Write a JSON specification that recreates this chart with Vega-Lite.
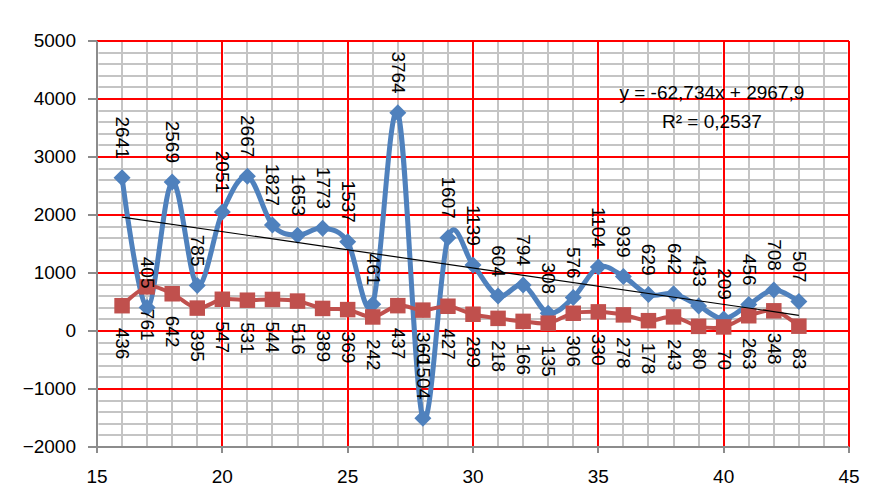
{
  "$schema": "https://vega.github.io/schema/vega-lite/v6.json",
  "width": 752,
  "height": 406,
  "autosize": {"type": "none"},
  "padding": {"left": 97, "top": 41, "right": 37, "bottom": 45},
  "background": "white",
  "config": {
    "view": {"stroke": null},
    "font": "Liberation Sans",
    "axis": {"labelFont": "Liberation Sans", "labelFontSize": 19, "labelColor": "#000000", "gridOpacity": 1, "domainOpacity": 1, "tickOpacity": 1, "translate": 0}
  },
  "data": {
    "values": [
      {"x": 16, "a": 2641, "b": 436},
      {"x": 17, "a": 405, "b": 761},
      {"x": 18, "a": 2569, "b": 642},
      {"x": 19, "a": 785, "b": 395},
      {"x": 20, "a": 2051, "b": 547},
      {"x": 21, "a": 2667, "b": 531},
      {"x": 22, "a": 1827, "b": 544},
      {"x": 23, "a": 1653, "b": 516},
      {"x": 24, "a": 1773, "b": 389},
      {"x": 25, "a": 1537, "b": 369},
      {"x": 26, "a": 461, "b": 242},
      {"x": 27, "a": 3764, "b": 437},
      {"x": 28, "a": -1504, "b": 360},
      {"x": 29, "a": 1607, "b": 427},
      {"x": 30, "a": 1139, "b": 289},
      {"x": 31, "a": 604, "b": 218},
      {"x": 32, "a": 794, "b": 166},
      {"x": 33, "a": 308, "b": 135},
      {"x": 34, "a": 576, "b": 306},
      {"x": 35, "a": 1104, "b": 330},
      {"x": 36, "a": 939, "b": 278},
      {"x": 37, "a": 629, "b": 178},
      {"x": 38, "a": 642, "b": 243},
      {"x": 39, "a": 433, "b": 80},
      {"x": 40, "a": 209, "b": 70},
      {"x": 41, "a": 456, "b": 263},
      {"x": 42, "a": 708, "b": 348},
      {"x": 43, "a": 507, "b": 83}
    ]
  },
  "resolve": {"axis": {"x": "independent", "y": "independent"}},
  "layer": [
    {
      "mark": {"type": "line", "color": "#4F81BD", "strokeWidth": 5, "interpolate": "cardinal", "tension": 0,
               "point": {"shape": "diamond", "size": 289, "filled": true, "color": "#4F81BD"}},
      "encoding": {
        "x": {"field": "x", "type": "quantitative", "scale": {"domain": [15, 45], "nice": false, "zero": false},
              "axis": {"orient": "bottom", "values": [16,17,18,19,21,22,23,24,26,27,28,29,31,32,33,34,36,37,38,39,41,42,43,44],
                       "grid": true, "gridColor": "#C4C4C4", "gridWidth": 2, "labels": false, "ticks": false, "domain": false, "title": null}},
        "y": {"field": "a", "type": "quantitative", "scale": {"domain": [-2000, 5000], "nice": false, "zero": false},
              "axis": {"orient": "left", "values": [-1800,-1600,-1400,-1200,-800,-600,-400,-200,200,400,600,800,1200,1400,1600,1800,2200,2400,2600,2800,3200,3400,3600,3800,4200,4400,4600,4800],
                       "grid": true, "gridColor": "#C4C4C4", "gridWidth": 2, "gridDash": [122.3333, 3], "gridDashOffset": -1.5,
                       "labels": false, "ticks": false, "domain": false, "title": null}}
      }
    },
    {
      "mark": {"type": "line", "color": "#C0504D", "strokeWidth": 4, "interpolate": "cardinal", "tension": 0,
               "point": {"shape": "square", "size": 240, "filled": true, "color": "#C0504D"}},
      "encoding": {
        "x": {"field": "x", "type": "quantitative",
              "axis": {"orient": "bottom", "values": [15, 20, 25, 30, 35, 40, 45], "grid": true, "gridColor": "#FF0000", "gridWidth": 2,
                       "domain": true, "domainColor": "#8C8C8C", "domainWidth": 2, "ticks": true, "tickColor": "#8C8C8C", "tickWidth": 2, "tickSize": 6,
                       "labelPadding": 15, "labelFlush": false, "labelOverlap": false, "format": "d", "title": null}},
        "y": {"field": "b", "type": "quantitative",
              "axis": {"orient": "left", "values": [-2000, -1000, 0, 1000, 2000, 3000, 4000, 5000], "grid": true, "gridColor": "#FF0000", "gridWidth": 2,
                       "domain": true, "domainColor": "#8C8C8C", "domainWidth": 2, "ticks": true, "tickColor": "#8C8C8C", "tickWidth": 2, "tickSize": 9,
                       "labelPadding": 12, "labelFlush": false, "labelOverlap": false, "format": "d", "title": null}}
      }
    },
    {
      "transform": [{"regression": "a", "on": "x", "extent": [16, 43]}],
      "mark": {"type": "line", "color": "#000000", "strokeWidth": 1.2},
      "encoding": {
        "x": {"field": "x", "type": "quantitative", "axis": null},
        "y": {"field": "a", "type": "quantitative", "axis": null}
      }
    },
    {
      "mark": {"type": "text", "angle": 90, "align": "right", "baseline": "middle", "dx": -19, "fontSize": 19, "color": "#000000", "font": "Liberation Sans"},
      "encoding": {
        "x": {"field": "x", "type": "quantitative", "axis": null},
        "y": {"field": "a", "type": "quantitative", "axis": null},
        "text": {"field": "a", "type": "quantitative", "format": "d"}
      }
    },
    {
      "mark": {"type": "text", "angle": 90, "align": "left", "baseline": "middle", "dx": 22, "fontSize": 19, "color": "#000000", "font": "Liberation Sans"},
      "encoding": {
        "x": {"field": "x", "type": "quantitative", "axis": null},
        "y": {"field": "b", "type": "quantitative", "axis": null},
        "text": {"field": "b", "type": "quantitative", "format": "d"}
      }
    },
    {
      "data": {"values": [
        {"t": "y = -62,734x + 2967,9", "px": 39.53, "py": 4103},
        {"t": "R² = 0,2537", "px": 39.53, "py": 3603}
      ]},
      "mark": {"type": "text", "align": "center", "baseline": "middle", "fontSize": 19, "color": "#000000", "font": "Liberation Sans"},
      "encoding": {
        "x": {"field": "px", "type": "quantitative", "axis": null},
        "y": {"field": "py", "type": "quantitative", "axis": null},
        "text": {"field": "t", "type": "nominal"}
      }
    }
  ]
}
